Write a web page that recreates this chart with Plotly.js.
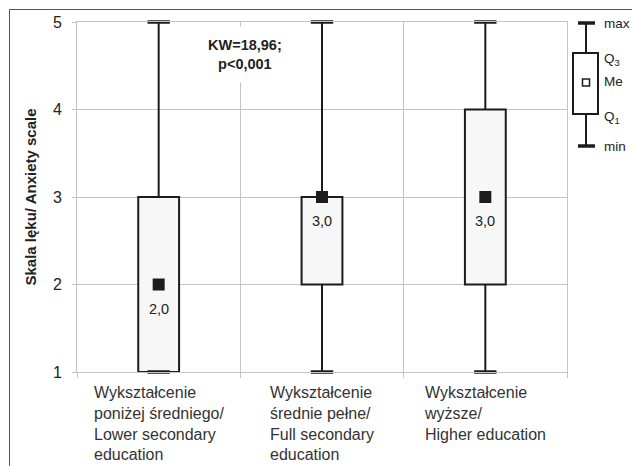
<!DOCTYPE html>
<html>
<head>
<meta charset="utf-8">
<script src="https://cdn.plot.ly/plotly-3.0.1.min.js"></script>
<style>html,body{margin:0;padding:0;background:#fff;}#chart{width:632px;height:466px;}</style>
</head>
<body>
<div id="chart"></div>
<script>
// ---- data ----
const categories = ['low', 'mid', 'high'];
const categoryLabels = [
  'Wykształcenie<br>poniżej średniego/<br>Lower secondary<br>education',
  'Wykształcenie<br>średnie pełne/<br>Full secondary<br>education',
  'Wykształcenie<br>wyższe/<br>Higher education'
];
const minVals = [1, 1, 1];
const q1Vals = [1, 2, 2];
const medianVals = [2, 3, 3];
const q3Vals = [3, 3, 4];
const maxVals = [5, 5, 5];
const yTicks = [1, 2, 3, 4, 5];
const statText = 'KW=18,96;<br>p<0,001';
const yTitle = 'Skala lęku/ Anxiety scale';
const legendLabels = ['max', 'Q<sub>3</sub>', 'Me', 'Q<sub>1</sub>', 'min'];

// ---- geometry helpers (plot area in px) ----
const L = 77, R = 567, T = 22, B = 372;
const W = 632, H = 466;
const px = x => (x - L) / (R - L);
const py = y => (B - y) / (B - T);

const dark = '#1c1c1c';
const font = 'Liberation Sans, Arial, sans-serif';

// whisker segments
const wx = [], wy = [];
categories.forEach((c, i) => {
  wx.push(c, c, null, c, c, null);
  wy.push(q3Vals[i], maxVals[i], null, minVals[i], q1Vals[i], null);
});

const traces = [
  {
    type: 'bar', x: categories, base: q1Vals,
    y: q3Vals.map((v, i) => v - q1Vals[i]),
    width: 0.25,
    marker: {color: '#f7f7f7', line: {color: dark, width: 2}},
    hoverinfo: 'skip'
  },
  {
    type: 'scatter', mode: 'lines', x: wx, y: wy,
    line: {color: dark, width: 2}, cliponaxis: false, hoverinfo: 'skip'
  },
  {
    type: 'scatter', mode: 'markers',
    x: categories.concat(categories), y: maxVals.concat(minVals),
    marker: {symbol: 'line-ew', size: 16, line: {color: dark, width: 3.5}},
    cliponaxis: false, hoverinfo: 'skip'
  },
  {
    type: 'scatter', mode: 'markers', x: categories, y: medianVals,
    marker: {symbol: 'square', size: 12, color: dark},
    cliponaxis: false, hoverinfo: 'skip'
  }
];

const annotations = [];
categories.forEach((c, i) => {
  annotations.push({
    x: c, y: medianVals[i], xref: 'x', yref: 'y',
    text: medianVals[i].toFixed(1).replace('.', ','),
    showarrow: false, yshift: -24,
    font: {family: font, size: 14.5, color: '#222'}
  });
  annotations.push({
    x: c, y: 0, xref: 'x', yref: 'paper', yanchor: 'top', yshift: -10,
    text: categoryLabels[i], showarrow: false, align: 'left', xanchor: 'center',
    font: {family: font, size: 16, color: '#333'}
  });
});
annotations.push({
  x: 0.5, y: 5, xref: 'x', yref: 'y', yanchor: 'top', yshift: -4, xshift: 5,
  text: '<b>' + statText + '</b>', showarrow: false,
  bgcolor: '#ffffff', borderpad: 10,
  font: {family: font, size: 14.5, color: '#222'}
});
// legend labels
const legendY = [23, 60, 82, 117, 146];
legendLabels.forEach((t, i) => {
  annotations.push({
    x: px(602), y: py(legendY[i]), xref: 'paper', yref: 'paper',
    xanchor: 'left', yanchor: 'middle', text: t, showarrow: false,
    font: {family: font, size: 13.5, color: '#222'}
  });
});

const shapes = [
  // outer frame
  {type: 'rect', xref: 'paper', yref: 'paper', x0: px(9.5), x1: px(W + 20), y0: py(H + 20), y1: py(9.5),
   line: {color: '#555', width: 1}, fillcolor: 'rgba(0,0,0,0)'},
  // legend icon
  {type: 'line', xref: 'paper', yref: 'paper', x0: px(586), x1: px(586), y0: py(23), y1: py(53), line: {color: dark, width: 2}},
  {type: 'line', xref: 'paper', yref: 'paper', x0: px(586), x1: px(586), y0: py(114), y1: py(146), line: {color: dark, width: 2}},
  {type: 'line', xref: 'paper', yref: 'paper', x0: px(578), x1: px(595), y0: py(23), y1: py(23), line: {color: dark, width: 3.5}},
  {type: 'line', xref: 'paper', yref: 'paper', x0: px(578), x1: px(595), y0: py(146), y1: py(146), line: {color: dark, width: 3.5}},
  {type: 'rect', xref: 'paper', yref: 'paper', x0: px(573), x1: px(598), y0: py(114), y1: py(53), line: {color: dark, width: 2}, fillcolor: '#ffffff'},
  {type: 'rect', xref: 'paper', yref: 'paper', x0: px(582.5), x1: px(589.5), y0: py(86), y1: py(79), line: {color: dark, width: 1.5}, fillcolor: '#ffffff'}
];

const layout = {
  width: W, height: H,
  margin: {l: L, r: W - R, t: T, b: H - B, pad: 0},
  paper_bgcolor: '#ffffff', plot_bgcolor: '#ffffff',
  showlegend: false,
  xaxis: {
    type: 'category', categoryarray: categories, range: [-0.5, 2.5],
    tickson: 'boundaries', showgrid: true, gridcolor: '#c4c4c4', gridwidth: 1,
    showticklabels: false, ticks: 'outside', ticklen: 5, tickcolor: '#c4c4c4',
    showline: true, linecolor: '#c4c4c4', mirror: true, zeroline: false, fixedrange: true
  },
  yaxis: {
    range: [1, 5], tickvals: yTicks, ticktext: yTicks.map(String),
    showgrid: true, gridcolor: '#c4c4c4', gridwidth: 1,
    ticks: 'outside', ticklen: 4, tickcolor: '#c4c4c4',
    showline: true, linecolor: '#c4c4c4', mirror: true, zeroline: false,
    ticklabelstandoff: 7,
    tickfont: {family: font, size: 16, color: '#222'},
    title: {text: '<b>' + yTitle + '</b>', font: {family: font, size: 15, color: '#222'}, standoff: 12},
    fixedrange: true
  },
  annotations: annotations,
  shapes: shapes,
  bargap: 0
};

Plotly.newPlot('chart', traces, layout, {displayModeBar: false, staticPlot: true});
</script>
</body>
</html>
